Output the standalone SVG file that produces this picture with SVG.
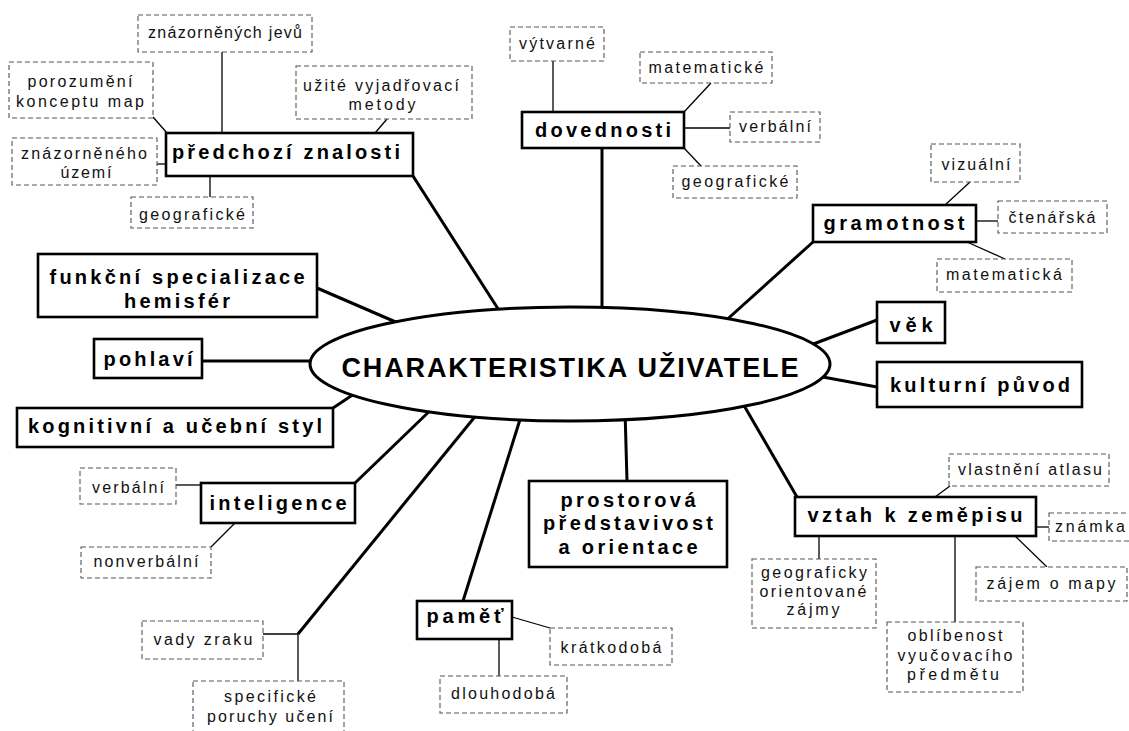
<svg xmlns="http://www.w3.org/2000/svg" width="1129" height="731" viewBox="0 0 1129 731">
<style>
.s{fill:#fff;stroke:#000;stroke-width:2.6}
.d{fill:#fff;stroke:#555;stroke-width:1.1;stroke-dasharray:5 3}
.b{font-family:"Liberation Sans",Arial,Helvetica,sans-serif;font-weight:bold;font-size:20px;text-anchor:middle;fill:#000}
.r{font-family:"Liberation Sans",Arial,Helvetica,sans-serif;font-size:16px;text-anchor:middle;fill:#111}
.t{font-family:"Liberation Sans",Arial,Helvetica,sans-serif;font-weight:bold;font-size:27px;text-anchor:middle;fill:#000}
.k{stroke:#000;stroke-width:3;fill:none}
.n{stroke:#000;stroke-width:1.3;fill:none}
</style>
<rect width="1129" height="731" fill="#fff"/>
<g id="connectors">
<line class="k" x1="413" y1="176" x2="502" y2="315"/>
<line class="k" x1="602" y1="148" x2="602" y2="315"/>
<line class="k" x1="813" y1="242" x2="722" y2="324"/>
<line class="k" x1="877" y1="320" x2="808" y2="346"/>
<line class="k" x1="877" y1="387" x2="812" y2="375"/>
<line class="k" x1="797" y1="497" x2="735" y2="390"/>
<line class="k" x1="627" y1="481" x2="625" y2="410"/>
<line class="k" x1="463" y1="601" x2="523" y2="410"/>
<line class="k" x1="298" y1="634" x2="482" y2="408"/>
<line class="k" x1="355" y1="483" x2="438" y2="403"/>
<line class="k" x1="333" y1="408" x2="360" y2="390"/>
<line class="k" x1="202" y1="361" x2="318" y2="361"/>
<line class="k" x1="317" y1="288" x2="405" y2="326"/>
<line class="n" x1="222" y1="52" x2="222" y2="133"/>
<line class="n" x1="153" y1="117" x2="167" y2="133"/>
<line class="n" x1="387" y1="119" x2="375" y2="133"/>
<line class="n" x1="157" y1="164" x2="166" y2="164"/>
<line class="n" x1="210" y1="176" x2="210" y2="197"/>
<line class="n" x1="553" y1="61" x2="553" y2="112"/>
<line class="n" x1="711" y1="83" x2="684" y2="112"/>
<line class="n" x1="684" y1="128" x2="730" y2="128"/>
<line class="n" x1="684" y1="148" x2="701" y2="166"/>
<line class="n" x1="970" y1="182" x2="945" y2="205"/>
<line class="n" x1="976" y1="221" x2="998" y2="221"/>
<line class="n" x1="967" y1="242" x2="1005" y2="259"/>
<line class="n" x1="176" y1="485" x2="201" y2="485"/>
<line class="n" x1="211" y1="547" x2="235" y2="523"/>
<line class="n" x1="263" y1="634" x2="298" y2="634"/>
<line class="n" x1="298" y1="634" x2="298" y2="681"/>
<line class="n" x1="512" y1="617" x2="550" y2="628"/>
<line class="n" x1="499" y1="639" x2="499" y2="676"/>
<line class="n" x1="950" y1="486" x2="935" y2="497"/>
<line class="n" x1="1036" y1="527" x2="1049" y2="527"/>
<line class="n" x1="1015" y1="536" x2="1047" y2="567"/>
<line class="n" x1="819" y1="536" x2="819" y2="559"/>
<line class="n" x1="955" y1="536" x2="955" y2="622"/>
</g>
<g id="center">
<ellipse cx="570" cy="364" rx="260" ry="57" fill="#fff" stroke="#000" stroke-width="3"/>
<text class="t" x="570" y="377" textLength="457" lengthAdjust="spacing">CHARAKTERISTIKA UŽIVATELE</text>
</g>
<g id="predchozi">
<rect class="s" x="166" y="133" width="247" height="43"/>
<text class="b" x="286" y="159" textLength="228" lengthAdjust="spacing">předchozí znalosti</text>
</g>
<g id="jevu">
<rect class="d" x="138" y="15" width="174" height="37"/>
<text class="r" x="225" y="38" textLength="154" lengthAdjust="spacing">znázorněných jevů</text>
</g>
<g id="porozumeni">
<rect class="d" x="9" y="62" width="144" height="56"/>
<text class="r" x="80" y="87" textLength="105" lengthAdjust="spacing">porozumění</text>
<text class="r" x="80" y="107" textLength="128" lengthAdjust="spacing">konceptu map</text>
</g>
<g id="uzite">
<rect class="d" x="296" y="66" width="176" height="53"/>
<text class="r" x="381" y="91" textLength="156" lengthAdjust="spacing">užité vyjadřovací</text>
<text class="r" x="382" y="110" textLength="67" lengthAdjust="spacing">metody</text>
</g>
<g id="znazorneneho">
<rect class="d" x="12" y="138" width="145" height="47"/>
<text class="r" x="84" y="159" textLength="126" lengthAdjust="spacing">znázorněného</text>
<text class="r" x="86" y="178" textLength="51" lengthAdjust="spacing">území</text>
</g>
<g id="geograficke-l">
<rect class="d" x="131" y="197" width="122" height="31"/>
<text class="r" x="192" y="220" textLength="106" lengthAdjust="spacing">geografické</text>
</g>
<g id="dovednosti">
<rect class="s" x="522" y="112" width="162" height="36"/>
<text class="b" x="603" y="137" textLength="136" lengthAdjust="spacing">dovednosti</text>
</g>
<g id="vytvarne">
<rect class="d" x="510" y="27" width="94" height="34"/>
<text class="r" x="557" y="49" textLength="76" lengthAdjust="spacing">výtvarné</text>
</g>
<g id="matematicke">
<rect class="d" x="640" y="52" width="132" height="31"/>
<text class="r" x="706" y="73" textLength="115" lengthAdjust="spacing">matematické</text>
</g>
<g id="verbalni-r">
<rect class="d" x="730" y="112" width="90" height="30"/>
<text class="r" x="775" y="132" textLength="72" lengthAdjust="spacing">verbální</text>
</g>
<g id="geograficke-r">
<rect class="d" x="673" y="166" width="124" height="32"/>
<text class="r" x="735" y="187" textLength="107" lengthAdjust="spacing">geografické</text>
</g>
<g id="gramotnost">
<rect class="s" x="813" y="205" width="163" height="37"/>
<text class="b" x="894" y="230" textLength="141" lengthAdjust="spacing">gramotnost</text>
</g>
<g id="vizualni">
<rect class="d" x="931" y="144" width="89" height="38"/>
<text class="r" x="976" y="170" textLength="69" lengthAdjust="spacing">vizuální</text>
</g>
<g id="ctenarska">
<rect class="d" x="998" y="201" width="109" height="32"/>
<text class="r" x="1052" y="223" textLength="87" lengthAdjust="spacing">čtenářská</text>
</g>
<g id="matematicka">
<rect class="d" x="937" y="259" width="135" height="33"/>
<text class="r" x="1004" y="280" textLength="116" lengthAdjust="spacing">matematická</text>
</g>
<g id="vek">
<rect class="s" x="877" y="302" width="68" height="41"/>
<text class="b" x="911" y="332" textLength="43" lengthAdjust="spacing">věk</text>
</g>
<g id="kulturni">
<rect class="s" x="877" y="362" width="205" height="45"/>
<text class="b" x="980" y="392" textLength="180" lengthAdjust="spacing">kulturní původ</text>
</g>
<g id="funkcni">
<rect class="s" x="38" y="254" width="279" height="63"/>
<text class="b" x="177" y="284" textLength="255" lengthAdjust="spacing">funkční specializace</text>
<text class="b" x="177" y="308" textLength="106" lengthAdjust="spacing">hemisfér</text>
</g>
<g id="pohlavi">
<rect class="s" x="94" y="339" width="108" height="39"/>
<text class="b" x="148" y="366" textLength="89" lengthAdjust="spacing">pohlaví</text>
</g>
<g id="kognitivni">
<rect class="s" x="17" y="408" width="316" height="39"/>
<text class="b" x="175" y="433" textLength="294" lengthAdjust="spacing">kognitivní a učební styl</text>
</g>
<g id="inteligence">
<rect class="s" x="201" y="483" width="154" height="40"/>
<text class="b" x="278" y="510" textLength="137" lengthAdjust="spacing">inteligence</text>
</g>
<g id="verbalni-l">
<rect class="d" x="80" y="468" width="96" height="36"/>
<text class="r" x="128" y="493" textLength="72" lengthAdjust="spacing">verbální</text>
</g>
<g id="nonverbalni">
<rect class="d" x="81" y="547" width="130" height="31"/>
<text class="r" x="146" y="567" textLength="105" lengthAdjust="spacing">nonverbální</text>
</g>
<g id="vady">
<rect class="d" x="142" y="621" width="121" height="38"/>
<text class="r" x="203" y="645" textLength="99" lengthAdjust="spacing">vady zraku</text>
</g>
<g id="specificke">
<rect class="d" x="193" y="681" width="151" height="60"/>
<text class="r" x="270" y="702" textLength="92" lengthAdjust="spacing">specifické</text>
<text class="r" x="270" y="722" textLength="126" lengthAdjust="spacing">poruchy učení</text>
</g>
<g id="prostorova">
<rect class="s" x="529" y="481" width="198" height="86"/>
<text class="b" x="628" y="507" textLength="135" lengthAdjust="spacing">prostorová</text>
<text class="b" x="628" y="530" textLength="170" lengthAdjust="spacing">představivost</text>
<text class="b" x="628" y="554" textLength="139" lengthAdjust="spacing">a orientace</text>
</g>
<g id="pamet">
<rect class="s" x="417" y="601" width="95" height="38"/>
<text class="b" x="465" y="623" textLength="77" lengthAdjust="spacing">paměť</text>
</g>
<g id="kratkodoba">
<rect class="d" x="550" y="628" width="122" height="37"/>
<text class="r" x="611" y="653" textLength="101" lengthAdjust="spacing">krátkodobá</text>
</g>
<g id="dlouhodoba">
<rect class="d" x="440" y="676" width="127" height="37"/>
<text class="r" x="503" y="699" textLength="104" lengthAdjust="spacing">dlouhodobá</text>
</g>
<g id="vztah">
<rect class="s" x="795" y="497" width="241" height="39"/>
<text class="b" x="915" y="522" textLength="215" lengthAdjust="spacing">vztah k zeměpisu</text>
</g>
<g id="vlastneni">
<rect class="d" x="949" y="454" width="160" height="32"/>
<text class="r" x="1030" y="475" textLength="144" lengthAdjust="spacing">vlastnění atlasu</text>
</g>
<g id="znamka">
<rect class="d" x="1049" y="513" width="86" height="28"/>
<text class="r" x="1090" y="532" textLength="70" lengthAdjust="spacing">známka</text>
</g>
<g id="zajem">
<rect class="d" x="976" y="567" width="151" height="34"/>
<text class="r" x="1051" y="589" textLength="129" lengthAdjust="spacing">zájem o mapy</text>
</g>
<g id="geograficky">
<rect class="d" x="752" y="559" width="124" height="69"/>
<text class="r" x="814" y="578" textLength="106" lengthAdjust="spacing">geograficky</text>
<text class="r" x="813" y="597" textLength="107" lengthAdjust="spacing">orientované</text>
<text class="r" x="813" y="615" textLength="53" lengthAdjust="spacing">zájmy</text>
</g>
<g id="oblibenost">
<rect class="d" x="887" y="622" width="136" height="70"/>
<text class="r" x="955" y="641" textLength="95" lengthAdjust="spacing">oblíbenost</text>
<text class="r" x="955" y="661" textLength="115" lengthAdjust="spacing">vyučovacího</text>
<text class="r" x="953" y="680" textLength="92" lengthAdjust="spacing">předmětu</text>
</g>
</svg>
